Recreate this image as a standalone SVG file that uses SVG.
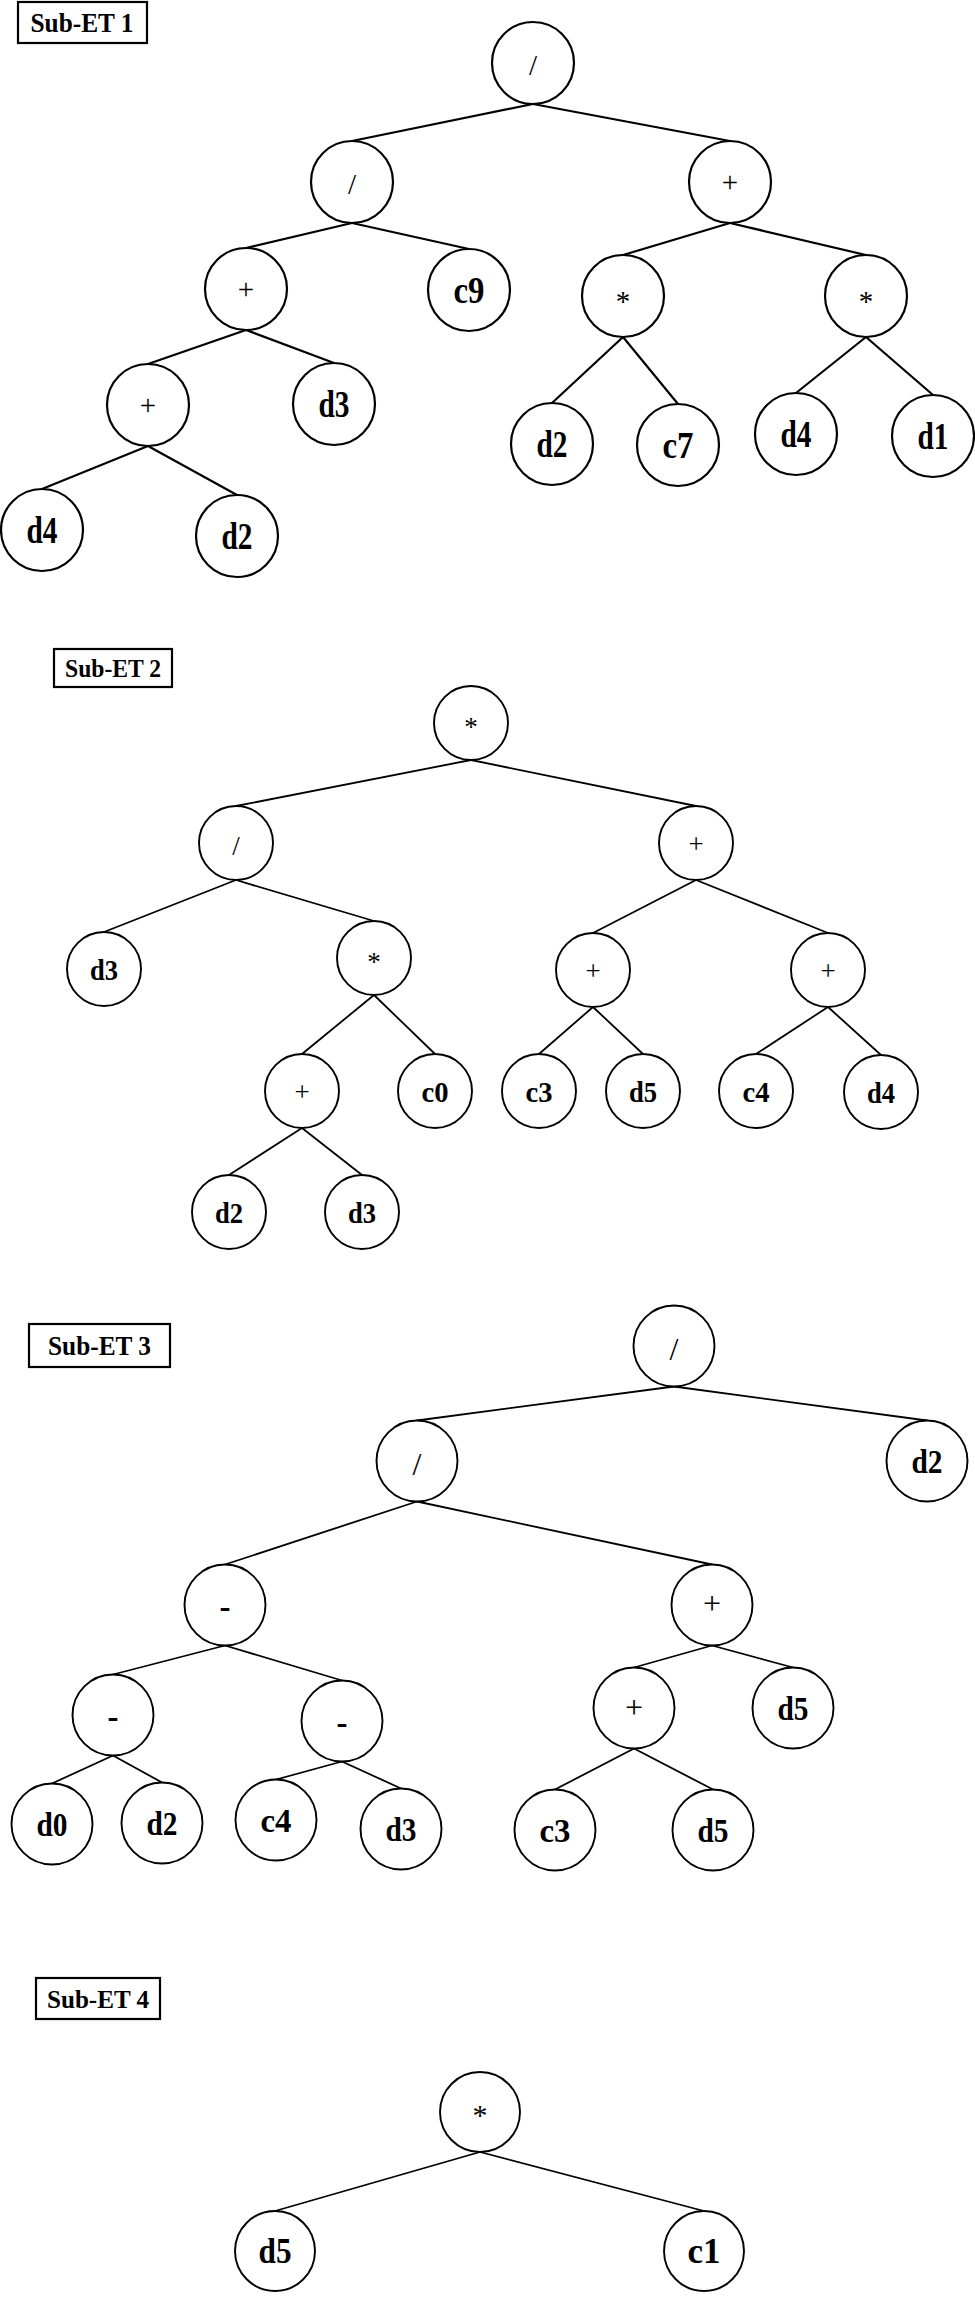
<svg xmlns="http://www.w3.org/2000/svg" width="975" height="2299" viewBox="0 0 975 2299">
<style>
text{font-family:"Liberation Serif","Times New Roman",serif;text-anchor:middle;fill:#000}
.lbl rect{fill:#fff;stroke:#000;stroke-width:2.2}
.lbl text{font-weight:bold}
circle{fill:#fff;stroke:#000}
.t1 circle{stroke-width:2.2}
.t2 circle,.t3 circle,.t4 circle{stroke-width:1.9}
.op{font-weight:normal}
.lf{font-weight:bold}
.e line{stroke:#000;stroke-linecap:round}
.e1 line{stroke-width:2.2}
.e2 line,.e3 line,.e4 line{stroke-width:1.8}
.s1 .op{font-size:29px}
.s1 .lf{font-size:37px}
.s2 .op{font-size:27px}
.s2 .lf{font-size:30px}
.s3 .op{font-size:32px}
.s3 .lf{font-size:33px}
.s4 .op{font-size:30px}
.s4 .lf{font-size:35px}
</style>
<rect width="975" height="2299" fill="#fff"/>

<!-- Labels -->
<g id="label-1" class="lbl"><rect x="18" y="2" width="129" height="41"/><text x="82" y="32" font-size="27" textLength="103" lengthAdjust="spacingAndGlyphs">Sub-ET 1</text></g>
<g id="label-2" class="lbl"><rect x="54" y="649" width="118" height="38"/><text x="113" y="677" font-size="25" textLength="96" lengthAdjust="spacingAndGlyphs">Sub-ET 2</text></g>
<g id="label-3" class="lbl"><rect x="29" y="1324" width="141" height="43"/><text x="99.5" y="1355" font-size="27" textLength="103" lengthAdjust="spacingAndGlyphs">Sub-ET 3</text></g>
<g id="label-4" class="lbl"><rect x="36" y="1978" width="124" height="41"/><text x="98" y="2008" font-size="26" textLength="102" lengthAdjust="spacingAndGlyphs">Sub-ET 4</text></g>

<!-- Connectors -->
<g id="connectors" class="e">
<g class="e1">
<line x1="533" y1="104" x2="352" y2="141"/>
<line x1="533" y1="104" x2="730" y2="141"/>
<line x1="352" y1="223" x2="246" y2="248"/>
<line x1="352" y1="223" x2="469" y2="249"/>
<line x1="730" y1="223" x2="623" y2="255"/>
<line x1="730" y1="223" x2="866" y2="255"/>
<line x1="246" y1="330" x2="148" y2="364"/>
<line x1="246" y1="330" x2="334" y2="363"/>
<line x1="148" y1="446" x2="42" y2="489"/>
<line x1="148" y1="446" x2="237" y2="495"/>
<line x1="623" y1="337" x2="552" y2="403"/>
<line x1="623" y1="337" x2="678" y2="404"/>
<line x1="866" y1="337" x2="796" y2="393"/>
<line x1="866" y1="337" x2="933" y2="395"/>
</g>
<g class="e2">
<line x1="471" y1="760" x2="236" y2="806"/>
<line x1="471" y1="760" x2="696" y2="806"/>
<line x1="236" y1="880" x2="104" y2="932"/>
<line x1="236" y1="880" x2="374" y2="921"/>
<line x1="696" y1="880" x2="593" y2="933"/>
<line x1="696" y1="880" x2="828" y2="933"/>
<line x1="374" y1="995" x2="302" y2="1054"/>
<line x1="374" y1="995" x2="435" y2="1054"/>
<line x1="593" y1="1007" x2="539" y2="1054"/>
<line x1="593" y1="1007" x2="643" y2="1054"/>
<line x1="828" y1="1007" x2="756" y2="1054"/>
<line x1="828" y1="1007" x2="881" y2="1055"/>
<line x1="302" y1="1128" x2="229" y2="1175"/>
<line x1="302" y1="1128" x2="362" y2="1175"/>
</g>
<g class="e3">
<line x1="674" y1="1386.5" x2="417" y2="1420.5"/>
<line x1="674" y1="1386.5" x2="927" y2="1420.5"/>
<line x1="417" y1="1501.5" x2="225" y2="1564.5"/>
<line x1="417" y1="1501.5" x2="712" y2="1564.5"/>
<line x1="225" y1="1645.5" x2="113" y2="1674.5"/>
<line x1="225" y1="1645.5" x2="342" y2="1680.5"/>
<line x1="712" y1="1645.5" x2="634" y2="1667.5"/>
<line x1="712" y1="1645.5" x2="793" y2="1667.5"/>
<line x1="113" y1="1755.5" x2="52" y2="1783.5"/>
<line x1="113" y1="1755.5" x2="162" y2="1782.5"/>
<line x1="342" y1="1761.5" x2="276" y2="1779.5"/>
<line x1="342" y1="1761.5" x2="401" y2="1788.5"/>
<line x1="634" y1="1748.5" x2="555" y2="1789.5"/>
<line x1="634" y1="1748.5" x2="713" y2="1789.5"/>
</g>
<g class="e4">
<line x1="480" y1="2152" x2="275" y2="2211"/>
<line x1="480" y1="2152" x2="704" y2="2211"/>
</g>
</g>

<!-- Sub-ET 1 -->
<g class="t1 s1">
<g id="t1-root"><circle cx="533" cy="63" r="41"/><text class="op" x="533" y="75">/</text></g>
<g id="t1-div"><circle cx="352" cy="182" r="41"/><text class="op" x="352" y="194">/</text></g>
<g id="t1-plus-r"><circle cx="730" cy="182" r="41"/><text class="op" x="730" y="192">+</text></g>
<g id="t1-plus-l"><circle cx="246" cy="289" r="41"/><text class="op" x="246" y="299">+</text></g>
<g id="t1-c9"><circle cx="469" cy="290" r="41"/><text class="lf" x="469" y="303" textLength="31" lengthAdjust="spacingAndGlyphs">c9</text></g>
<g id="t1-mul-l"><circle cx="623" cy="296" r="41"/><text class="op" x="623" y="311">*</text></g>
<g id="t1-mul-r"><circle cx="866" cy="296" r="41"/><text class="op" x="866" y="311">*</text></g>
<g id="t1-plus-ll"><circle cx="148" cy="405" r="41"/><text class="op" x="148" y="415">+</text></g>
<g id="t1-d3"><circle cx="334" cy="404" r="41"/><text class="lf" x="334" y="417" textLength="31" lengthAdjust="spacingAndGlyphs">d3</text></g>
<g id="t1-d2r"><circle cx="552" cy="444" r="41"/><text class="lf" x="552" y="457" textLength="31" lengthAdjust="spacingAndGlyphs">d2</text></g>
<g id="t1-c7"><circle cx="678" cy="445" r="41"/><text class="lf" x="678" y="458" textLength="31" lengthAdjust="spacingAndGlyphs">c7</text></g>
<g id="t1-d4r"><circle cx="796" cy="434" r="41"/><text class="lf" x="796" y="447" textLength="31" lengthAdjust="spacingAndGlyphs">d4</text></g>
<g id="t1-d1"><circle cx="933" cy="436" r="41"/><text class="lf" x="933" y="449" textLength="31" lengthAdjust="spacingAndGlyphs">d1</text></g>
<g id="t1-d4l"><circle cx="42" cy="530" r="41"/><text class="lf" x="42" y="543" textLength="31" lengthAdjust="spacingAndGlyphs">d4</text></g>
<g id="t1-d2l"><circle cx="237" cy="536" r="41"/><text class="lf" x="237" y="549" textLength="31" lengthAdjust="spacingAndGlyphs">d2</text></g>
</g>

<!-- Sub-ET 2 -->
<g class="t2 s2">
<g id="t2-root"><circle cx="471" cy="723" r="37"/><text class="op" x="471" y="736">*</text></g>
<g id="t2-div"><circle cx="236" cy="843" r="37"/><text class="op" x="236" y="855">/</text></g>
<g id="t2-plus"><circle cx="696" cy="843" r="37"/><text class="op" x="696" y="853">+</text></g>
<g id="t2-d3a"><circle cx="104" cy="969" r="37"/><text class="lf" x="104" y="980" textLength="28" lengthAdjust="spacingAndGlyphs">d3</text></g>
<g id="t2-mul"><circle cx="374" cy="958" r="37"/><text class="op" x="374" y="971">*</text></g>
<g id="t2-plus-a"><circle cx="593" cy="970" r="37"/><text class="op" x="593" y="980">+</text></g>
<g id="t2-plus-b"><circle cx="828" cy="970" r="37"/><text class="op" x="828" y="980">+</text></g>
<g id="t2-plus-c"><circle cx="302" cy="1091" r="37"/><text class="op" x="302" y="1101">+</text></g>
<g id="t2-c0"><circle cx="435" cy="1091" r="37"/><text class="lf" x="435" y="1102" textLength="27" lengthAdjust="spacingAndGlyphs">c0</text></g>
<g id="t2-c3"><circle cx="539" cy="1091" r="37"/><text class="lf" x="539" y="1102" textLength="27" lengthAdjust="spacingAndGlyphs">c3</text></g>
<g id="t2-d5"><circle cx="643" cy="1091" r="37"/><text class="lf" x="643" y="1102" textLength="28" lengthAdjust="spacingAndGlyphs">d5</text></g>
<g id="t2-c4"><circle cx="756" cy="1091" r="37"/><text class="lf" x="756" y="1102" textLength="27" lengthAdjust="spacingAndGlyphs">c4</text></g>
<g id="t2-d4"><circle cx="881" cy="1092" r="37"/><text class="lf" x="881" y="1103" textLength="28" lengthAdjust="spacingAndGlyphs">d4</text></g>
<g id="t2-d2"><circle cx="229" cy="1212" r="37"/><text class="lf" x="229" y="1223" textLength="28" lengthAdjust="spacingAndGlyphs">d2</text></g>
<g id="t2-d3b"><circle cx="362" cy="1212" r="37"/><text class="lf" x="362" y="1223" textLength="28" lengthAdjust="spacingAndGlyphs">d3</text></g>
</g>

<!-- Sub-ET 3 -->
<g class="t3 s3">
<g id="t3-root"><circle cx="674" cy="1346" r="40.5"/><text class="op" x="674" y="1360">/</text></g>
<g id="t3-div"><circle cx="417" cy="1461" r="40.5"/><text class="op" x="417" y="1475">/</text></g>
<g id="t3-d2r"><circle cx="927" cy="1461" r="40.5"/><text class="lf" x="927" y="1473" textLength="31" lengthAdjust="spacingAndGlyphs">d2</text></g>
<g id="t3-minus"><circle cx="225" cy="1605" r="40.5"/><text class="lf" x="225" y="1618">-</text></g>
<g id="t3-plus"><circle cx="712" cy="1605" r="40.5"/><text class="op" x="712" y="1614">+</text></g>
<g id="t3-minus-a"><circle cx="113" cy="1715" r="40.5"/><text class="lf" x="113" y="1728">-</text></g>
<g id="t3-minus-b"><circle cx="342" cy="1721" r="40.5"/><text class="lf" x="342" y="1734">-</text></g>
<g id="t3-plus-c"><circle cx="634" cy="1708" r="40.5"/><text class="op" x="634" y="1718">+</text></g>
<g id="t3-d5a"><circle cx="793" cy="1708" r="40.5"/><text class="lf" x="793" y="1720" textLength="31" lengthAdjust="spacingAndGlyphs">d5</text></g>
<g id="t3-d0"><circle cx="52" cy="1824" r="40.5"/><text class="lf" x="52" y="1836" textLength="31" lengthAdjust="spacingAndGlyphs">d0</text></g>
<g id="t3-d2"><circle cx="162" cy="1823" r="40.5"/><text class="lf" x="162" y="1835" textLength="31" lengthAdjust="spacingAndGlyphs">d2</text></g>
<g id="t3-c4"><circle cx="276" cy="1820" r="40.5"/><text class="lf" x="276" y="1832" textLength="31" lengthAdjust="spacingAndGlyphs">c4</text></g>
<g id="t3-d3"><circle cx="401" cy="1829" r="40.5"/><text class="lf" x="401" y="1841" textLength="31" lengthAdjust="spacingAndGlyphs">d3</text></g>
<g id="t3-c3"><circle cx="555" cy="1830" r="40.5"/><text class="lf" x="555" y="1842" textLength="31" lengthAdjust="spacingAndGlyphs">c3</text></g>
<g id="t3-d5b"><circle cx="713" cy="1830" r="40.5"/><text class="lf" x="713" y="1842" textLength="31" lengthAdjust="spacingAndGlyphs">d5</text></g>
</g>

<!-- Sub-ET 4 -->
<g class="t4 s4">
<g id="t4-root"><circle cx="480" cy="2112" r="40"/><text class="op" x="480" y="2125">*</text></g>
<g id="t4-d5"><circle cx="275" cy="2251" r="40"/><text class="lf" x="275" y="2263" textLength="33" lengthAdjust="spacingAndGlyphs">d5</text></g>
<g id="t4-c1"><circle cx="704" cy="2251" r="40"/><text class="lf" x="704" y="2263" textLength="33" lengthAdjust="spacingAndGlyphs">c1</text></g>
</g>
</svg>
